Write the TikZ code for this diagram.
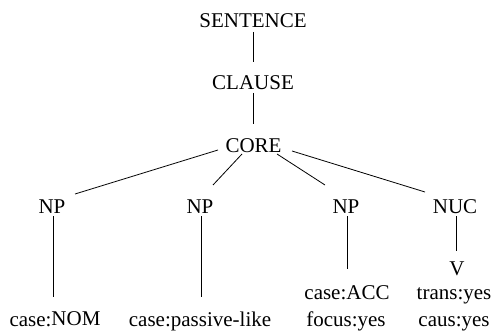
\documentclass[tikz,border=0pt]{standalone}
\usepackage{fontspec}
\setmainfont{Liberation Serif}
\begin{document}
\begin{tikzpicture}[x=1pt,y=1pt,
  lbl/.style={anchor=base,inner sep=0pt,font=\fontsize{21}{25}\selectfont},
  edge/.style={line width=0.8pt,black}]
\useasboundingbox (0,0) rectangle (494,-331);
\node[lbl] (s) at (253,-28) {SENTENCE};
\node[lbl] (c) at (253,-90) {CLAUSE};
\node[lbl] (core) at (253.5,-152) {CORE};
\node[lbl] (np1) at (52,-213) {NP};
\node[lbl] (np2) at (200,-213) {NP};
\node[lbl] (np3) at (346,-213) {NP};
\node[lbl] (nuc) at (455,-213) {NUC};
\node[lbl] (v) at (457,-275) {V};
\node[lbl] (acc) at (347,-299) {case:ACC};
\node[lbl] (focus) at (346,-326) {focus:yes};
\node[lbl] (trans) at (454,-299) {trans:yes};
\node[lbl] (caus) at (454,-326) {caus:yes};
\node[lbl] (nom) at (55,-326) {case:\raisebox{1pt}{NOM}};
\node[lbl] (pass) at (200,-326) {case:passive-like};
\draw[edge] ([shift={(0,-4)}]s.base) -- ([shift={(0,28)}]c.base);
\draw[edge] ([shift={(0,-3)}]c.base) -- ([shift={(-0.5,28)}]core.base);
\draw[edge] ([shift={(-35.5,2)}]core.base) -- ([shift={(23,19)}]np1.base);
\draw[edge] ([shift={(-11.5,-2)}]core.base) -- ([shift={(13,28)}]np2.base);
\draw[edge] ([shift={(23.5,-2)}]core.base) -- ([shift={(-21,28)}]np3.base);
\draw[edge] ([shift={(38.5,1)}]core.base) -- ([shift={(-30,21)}]nuc.base);
\draw[edge] ([shift={(1,-3)}]np1.base) -- ([shift={(-2,29)}]nom.base);
\draw[edge] ([shift={(1,-3)}]np2.base) -- ([shift={(1,29)}]pass.base);
\draw[edge] ([shift={(1,-3)}]np3.base) -- ([shift={(0,30)}]acc.base);
\draw[edge] ([shift={(1,-3)}]nuc.base) -- ([shift={(-1,24)}]v.base);
\end{tikzpicture}
\end{document}
